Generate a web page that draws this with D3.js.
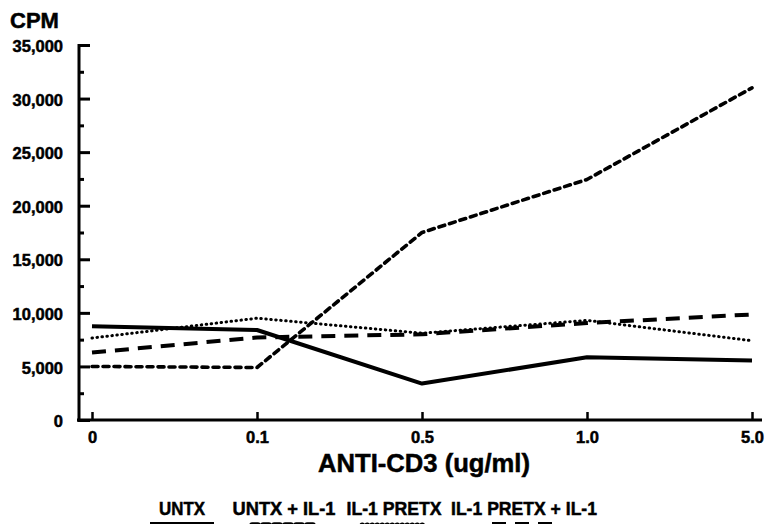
<!DOCTYPE html>
<html>
<head>
<meta charset="utf-8">
<script src="https://cdn.jsdelivr.net/npm/d3@7"></script>
<style>
  body { margin: 0; background: #fff; }
  text { font-family: "Liberation Sans", Arial, sans-serif; font-weight: bold; fill: #000; }
  .heavy { stroke: #000; stroke-width: 0.5; paint-order: stroke; }
</style>
</head>
<body>
<div id="chart"></div>
<script>
// data
const doses = ["0", "0.1", "0.5", "1.0", "5.0"];
const untx = [8750, 8400, 3400, 5850, 5550];
const untxIl1 = [5000, 4900, 17500, 22450, 31000];
const il1Pretx = [7650, 9500, 8100, 9300, 7400];
const il1PretxIl1 = [6300, 7700, 8000, 9050, 9850];
const yTicks = [0, 5000, 10000, 15000, 20000, 25000, 30000, 35000];
const yMinor = [2500, 7500, 12500, 17500, 22500, 27500, 32500];

const series = [
  { name: "UNTX", values: untx, width: 4, dash: null, cap: "butt" },
  { name: "UNTX + IL-1", values: untxIl1, width: 3.6, dash: "6,5", cap: "round" },
  { name: "IL-1 PRETX", values: il1Pretx, width: 3, dash: "0.5,4.5", cap: "round" },
  { name: "IL-1 PRETX + IL-1", values: il1PretxIl1, width: 4, dash: "14,9", cap: "butt" }
];

const width = 765, height = 524;
const axisX = 79;

const svg = d3.select("#chart").append("svg")
  .attr("width", width)
  .attr("height", height);

const x = d3.scalePoint().domain(doses).range([92, 752]);
const y = d3.scaleLinear().domain([0, 35000]).range([420, 45]);

// y axis
const yAxis = svg.append("g").attr("transform", `translate(${axisX},0)`);
yAxis.call(d3.axisLeft(y).tickValues(yTicks).tickSizeInner(-11).tickSizeOuter(0)
  .tickPadding(16).tickFormat(d3.format(",")));
yAxis.select(".domain").remove();
yAxis.selectAll(".tick line").attr("stroke", "#000").attr("stroke-width", 3);
yAxis.selectAll(".tick text").attr("font-size", 16.5).attr("dy", "0.4em")
  .attr("class", "heavy")
  .style("font-family", "'Liberation Sans', Arial, sans-serif").style("font-weight", "bold");
yAxis.append("line")
  .attr("x1", 0).attr("x2", 0)
  .attr("y1", y(35000) - 1).attr("y2", y(0) + 2)
  .attr("stroke", "#000").attr("stroke-width", 3);

const yAxisMinor = svg.append("g").attr("transform", `translate(${axisX},0)`);
yAxisMinor.call(d3.axisLeft(y).tickValues(yMinor).tickSizeInner(-5).tickSizeOuter(0).tickFormat(""));
yAxisMinor.select(".domain").remove();
yAxisMinor.selectAll(".tick line").attr("stroke", "#000").attr("stroke-width", 3);

// x axis
const xAxis = svg.append("g").attr("transform", `translate(0,${y(0)})`);
xAxis.call(d3.axisBottom(x).tickSizeInner(-8).tickSizeOuter(0).tickPadding(11));
xAxis.select(".domain").remove();
xAxis.selectAll(".tick line").attr("stroke", "#000").attr("stroke-width", 2.5);
xAxis.selectAll(".tick text").attr("font-size", 16.5)
  .attr("class", "heavy")
  .style("font-family", "'Liberation Sans', Arial, sans-serif").style("font-weight", "bold");
xAxis.append("line")
  .attr("x1", axisX - 2).attr("x2", 762)
  .attr("y1", 0).attr("y2", 0)
  .attr("stroke", "#000").attr("stroke-width", 3);

// titles
svg.append("text").attr("class", "heavy")
  .attr("x", 10).attr("y", 28).attr("font-size", 22).text("CPM");
svg.append("text")
  .attr("class", "heavy")
  .attr("x", (x.range()[0] + x.range()[1]) / 2 + 2)
  .attr("y", 472)
  .attr("text-anchor", "middle")
  .attr("font-size", 26)
  .attr("textLength", 212)
  .attr("lengthAdjust", "spacingAndGlyphs")
  .text("ANTI-CD3 (ug/ml)");

// lines
const line = d3.line()
  .x((d, i) => x(doses[i]))
  .y(d => y(d));

svg.selectAll(".series")
  .data(series)
  .enter()
  .append("path")
  .attr("class", "series")
  .attr("d", d => line(d.values))
  .attr("fill", "none")
  .attr("stroke", "#000")
  .attr("stroke-width", d => d.width)
  .attr("stroke-dasharray", d => d.dash)
  .attr("stroke-linecap", d => d.cap)
  .attr("stroke-linejoin", "round");

// legend
const legendX = [182, 284, 394, 524];
const legendW = [46, 103, 95, 146];
const legend = svg.selectAll(".legend")
  .data(series)
  .enter()
  .append("g")
  .attr("class", "legend")
  .attr("transform", (d, i) => `translate(${legendX[i]},0)`);

legend.append("text")
  .attr("class", "heavy")
  .attr("y", 515)
  .attr("text-anchor", "middle")
  .attr("font-size", 19)
  .attr("textLength", (d, i) => legendW[i])
  .attr("lengthAdjust", "spacingAndGlyphs")
  .text(d => d.name);

legend.append("line")
  .attr("x1", -32).attr("x2", 32)
  .attr("y1", 525).attr("y2", 525)
  .attr("stroke", "#000")
  .attr("stroke-width", d => d.width + 2)
  .attr("stroke-dasharray", d => d.dash)
  .attr("stroke-linecap", d => d.cap);
</script>
</body>
</html>
